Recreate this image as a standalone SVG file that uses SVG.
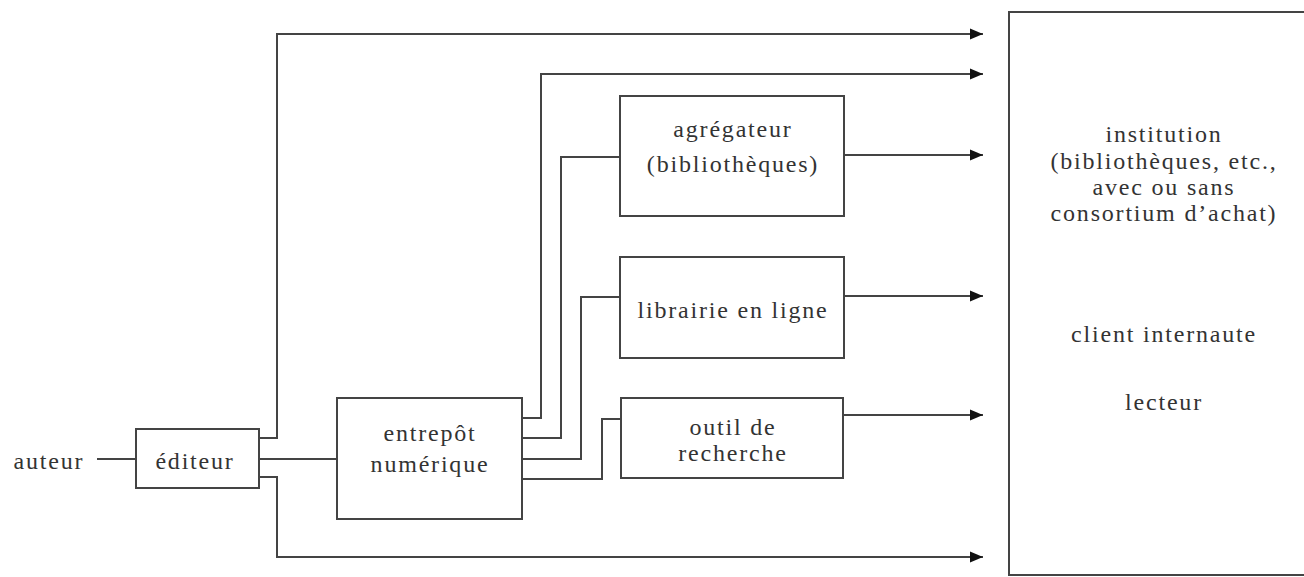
<svg xmlns="http://www.w3.org/2000/svg" width="1304" height="577" viewBox="0 0 1304 577">
<style>
  .box { fill: #fff; stroke: #444; stroke-width: 2; }
  .ln { fill: none; stroke: #444; stroke-width: 2; }
  .t { font-family: "Liberation Serif", "Times New Roman", serif; font-size: 24px; letter-spacing: 1.8px; fill: #333; text-anchor: middle; }
</style>
<defs>
  <marker id="arr" markerUnits="userSpaceOnUse" markerWidth="14" markerHeight="12" refX="13" refY="6" orient="auto">
    <path d="M0,0.5 L13,6 L0,11.5 z" fill="#111"/>
  </marker>
</defs>
<rect width="1304" height="577" fill="#fff"/>

<g id="connectors">
  <path class="ln" d="M97,459 H136"/>
  <path class="ln" d="M259,438 H277 V34 H983" marker-end="url(#arr)"/>
  <path class="ln" d="M259,459 H337"/>
  <path class="ln" d="M259,477 H277 V557 H983" marker-end="url(#arr)"/>
  <path class="ln" d="M522,418 H541 V74 H983" marker-end="url(#arr)"/>
  <path class="ln" d="M522,438 H561 V157 H620"/>
  <path class="ln" d="M522,459 H581 V297 H620"/>
  <path class="ln" d="M522,479 H602 V419 H621"/>
  <path class="ln" d="M844,155 H983" marker-end="url(#arr)"/>
  <path class="ln" d="M844,296 H983" marker-end="url(#arr)"/>
  <path class="ln" d="M843,415 H983" marker-end="url(#arr)"/>
</g>

<g id="auteur">
  <text class="t" x="49" y="469">auteur</text>
</g>

<g id="editeur">
  <rect class="box" x="136" y="429" width="123" height="59"/>
  <text class="t" x="195" y="469">éditeur</text>
</g>

<g id="entrepot">
  <rect class="box" x="337" y="398" width="185" height="121"/>
  <text class="t" x="430" y="441">entrepôt</text>
  <text class="t" x="430" y="472">numérique</text>
</g>

<g id="agregateur">
  <rect class="box" x="620" y="96" width="224" height="120"/>
  <text class="t" x="733" y="137">agrégateur</text>
  <text class="t" x="733" y="172">(bibliothèques)</text>
</g>

<g id="librairie">
  <rect class="box" x="620" y="257" width="224" height="101"/>
  <text class="t" x="733" y="318">librairie en ligne</text>
</g>

<g id="outil">
  <rect class="box" x="621" y="398" width="222" height="80"/>
  <text class="t" x="733" y="435">outil de</text>
  <text class="t" x="733" y="461">recherche</text>
</g>

<g id="institution">
  <rect class="box" x="1009" y="12" width="330" height="563"/>
  <text class="t" x="1164" y="142">institution</text>
  <text class="t" x="1164" y="169">(bibliothèques, etc.,</text>
  <text class="t" x="1164" y="195">avec ou sans</text>
  <text class="t" x="1164" y="221">consortium d’achat)</text>
  <text class="t" x="1164" y="342">client internaute</text>
  <text class="t" x="1164" y="410">lecteur</text>
</g>
</svg>
